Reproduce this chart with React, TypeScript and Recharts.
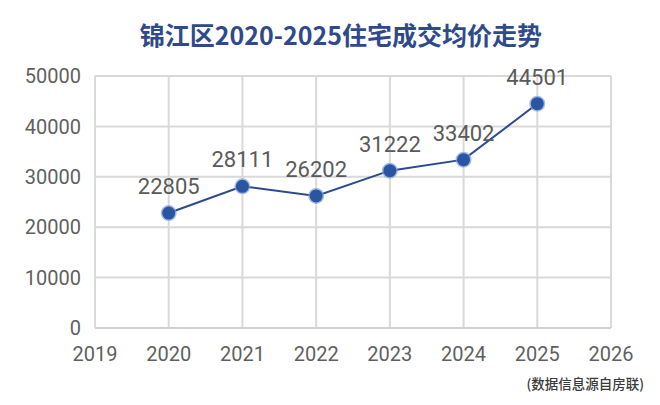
import React from "react";
import { LineChart, Line, XAxis, YAxis, CartesianGrid, LabelList } from "recharts";

const years = [2020, 2021, 2022, 2023, 2024, 2025];
const prices = [22805, 28111, 26202, 31222, 33402, 44501];
const xTicks = [2019, 2020, 2021, 2022, 2023, 2024, 2025, 2026];
const yTicks = [0, 10000, 20000, 30000, 40000, 50000];
const title = "锦江区2020-2025住宅成交均价走势";
const source = "(数据信息源自房联)";

const data = years.map((y, i) => ({ year: y, price: prices[i] }));

const Dot = (props: any) => {
  const { cx, cy } = props;
  if (cx == null || cy == null) return null;
  return (
    <g>
      <circle cx={cx} cy={cy} r={8} fill="#7f9fd6" opacity={0.7} />
      <circle cx={cx} cy={cy} r={6.5} fill="#2a55a2" />
    </g>
  );
};

const tickStyle = { fill: "#5f5f5f", fontSize: 20, fontFamily: "Roboto, 'Noto Sans', sans-serif" };

export default function App() {
  return (
    <div style={{ position: "absolute", left: 0, top: 0, width: 660, height: 405, background: "#fff" }}>
      <div
        style={{
          position: "absolute",
          left: 0,
          top: 16,
          width: 682,
          textAlign: "center",
          fontFamily: "'Noto Sans CJK SC', sans-serif",
          fontWeight: 700,
          fontSize: 25,
          color: "#2e4a8b",
          lineHeight: "36px",
        }}
      >
        {title}
      </div>
      <LineChart
        width={660}
        height={405}
        data={data}
        margin={{ top: 76, right: 49, bottom: 37, left: 0 }}
      >
        <CartesianGrid stroke="#d9d9d9" strokeWidth={2} horizontal vertical />
        <XAxis
          dataKey="year"
          type="number"
          domain={[2019, 2026]}
          ticks={xTicks}
          interval={0}
          height={40}
          tickLine={false}
          axisLine={{ stroke: "#d0d0d0", strokeWidth: 2 }}
          tick={tickStyle}
          tickMargin={19}
          tickSize={0}
        />
        <YAxis
          width={95}
          domain={[0, 50000]}
          ticks={yTicks}
          interval={0}
          tickLine={false}
          axisLine={{ stroke: "#d9d9d9", strokeWidth: 2 }}
          tick={tickStyle}
          tickMargin={14}
          tickSize={0}
        />
        <Line
          dataKey="price"
          stroke="#2b4a8f"
          strokeWidth={2}
          dot={<Dot />}
          activeDot={false}
          isAnimationActive={false}
        >
          <LabelList dataKey="price" position="top" offset={19} style={{ fill: "#5a5a5a", fontSize: 22, fontFamily: "Roboto, 'Noto Sans', sans-serif" }} />
        </Line>
      </LineChart>
      <div
        style={{
          position: "absolute",
          right: 16,
          top: 373,
          fontFamily: "'Noto Sans CJK SC', sans-serif",
          fontSize: 13.5,
          fontWeight: 500,
          color: "#3a3a3a",
        }}
      >
        {source}
      </div>
    </div>
  );
}
